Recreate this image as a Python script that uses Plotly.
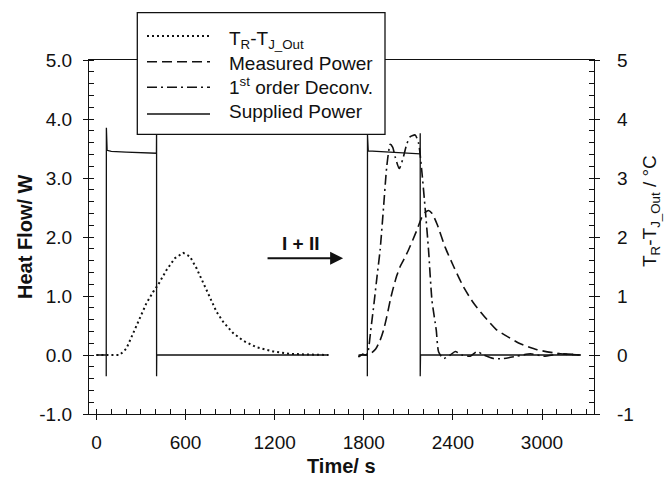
import plotly.graph_objects as go

# ---------------- data ----------------
# T_R - T_J_Out (dotted, right axis), first experiment
dot_t = [0, 100, 157, 202, 247, 292, 337, 382, 415, 472, 528, 584, 629, 674, 719, 764,
         809, 854, 921, 989, 1079, 1191, 1303, 1400, 1562]
dot_v = [0, 0, 0.0, 0.11, 0.37, 0.65, 0.88, 1.07, 1.19, 1.44, 1.64, 1.73, 1.67, 1.47, 1.22, 0.96,
         0.73, 0.56, 0.37, 0.24, 0.13, 0.06, 0.02, 0.01, 0]

# Measured power (dashed), second experiment
mp_t = [1764, 1790, 1820, 1850, 1880, 1910, 1933, 1955, 1980, 2000, 2023, 2045, 2070, 2101,
        2130, 2158, 2190, 2215, 2236, 2260, 2293, 2349, 2405, 2472, 2539, 2630, 2697, 2742,
        2854, 2967, 3124, 3260]
mp_v = [-0.03, 0.01, 0.0, 0.03, 0.1, 0.25, 0.42, 0.65, 0.95, 1.15, 1.35, 1.5, 1.62, 1.78,
        1.95, 2.12, 2.33, 2.42, 2.45, 2.40, 2.22, 1.82, 1.50, 1.15, 0.88, 0.60, 0.42, 0.35,
        0.19, 0.09, 0.02, 0]

# 1st order deconvolution (dash-dot), second experiment
dc_t = [1764, 1790, 1815, 1828, 1847, 1870, 1890, 1910, 1933, 1955, 1978, 1995, 2011, 2039,
        2067, 2090, 2113, 2146, 2169, 2191, 2214, 2236, 2259, 2288, 2304, 2337, 2382, 2416,
        2461, 2517, 2562, 2607, 2674, 2742, 2832, 2922, 3012, 3124, 3260]
dc_v = [-0.03, 0.01, 0.0, 0.05, 0.42, 0.9, 1.35, 1.78, 2.5, 3.2, 3.57, 3.52, 3.36, 3.16,
        3.36, 3.58, 3.70, 3.73, 3.59, 3.11, 2.46, 1.78, 0.93, 0.42, 0.05, -0.06, 0.0, 0.06,
        0.0, -0.02, 0.06, 0.0, -0.06, -0.06, -0.02, 0.02, -0.02, 0.02, 0]

# Supplied power (solid), both experiments
sup_t = [0, 66, 66, 67, 72, 100, 200, 300, 404, 405, 405, 406, 1562, None,
         1765, 1824, 1824, 1825, 1830, 1900, 2000, 2100, 2179, 2180, 2180, 2182, 3260]
sup_v = [0, 0, -0.36, 3.85, 3.47, 3.45, 3.44, 3.43, 3.42, 3.85, -0.36, 0, 0, None,
         0, 0, -0.36, 3.73, 3.46, 3.45, 3.43, 3.42, 3.41, 3.76, -0.36, 0, 0]

x_ticks = [0, 600, 1200, 1800, 2400, 3000]
x_ticktext = ["0", "600", "1200", "1800", "2400", "3000"]
y_ticks = [-1, 0, 1, 2, 3, 4, 5]
y_ticktext = ["-1.0", "0.0", "1.0", "2.0", "3.0", "4.0", "5.0"]
y2_ticktext = ["-1", "0", "1", "2", "3", "4", "5"]

legend_labels = ["T<sub>R</sub>-T<sub>J_Out</sub>", "Measured Power",
                 "1<sup>st</sup> order Deconv.", "Supplied Power"]

# ---------------- styling ----------------
FONT = "Liberation Sans, Arial, sans-serif"
INK = "#111111"
DOT = "2px,3px"
DASH = "10px,5px"
DASHDOT = "10px,4px,2px,4px"

fig = go.Figure()
fig.add_trace(go.Scatter(x=dot_t, y=dot_v, yaxis="y2", mode="lines", showlegend=False,
                         line=dict(color=INK, width=2, dash=DOT)))
fig.add_trace(go.Scatter(x=mp_t, y=mp_v, mode="lines", showlegend=False,
                         line=dict(color=INK, width=1.6, dash=DASH, shape="spline", smoothing=0.6)))
fig.add_trace(go.Scatter(x=dc_t, y=dc_v, mode="lines", showlegend=False,
                         line=dict(color=INK, width=1.6, dash=DASHDOT, shape="spline", smoothing=0.6)))
fig.add_trace(go.Scatter(x=sup_t, y=sup_v, mode="lines", showlegend=False, connectgaps=False,
                         line=dict(color=INK, width=1.3)))

axis_common = dict(showgrid=False, zeroline=False, showline=True, linecolor=INK, linewidth=1.3,
                   ticks="outside", ticklen=5, tickwidth=1, tickcolor=INK,
                   tickfont=dict(family=FONT, size=19, color=INK))

fig.update_layout(
    width=665, height=478,
    margin=dict(l=89, r=71, t=60, b=64),
    paper_bgcolor="white", plot_bgcolor="white",
    font=dict(family=FONT, color=INK),
    xaxis=dict(range=[-50, 3350], tickvals=x_ticks, ticktext=x_ticktext, mirror=True,
               ticklabelstandoff=6,
               minor=dict(dtick=100, tick0=0, ticks="inside", ticklen=5, tickcolor=INK),
               **axis_common),
    yaxis=dict(range=[-1, 5], tickvals=y_ticks, ticktext=y_ticktext,
               ticklabelstandoff=7,
               minor=dict(dtick=0.2, tick0=0, ticks="inside", ticklen=5, tickcolor=INK),
               **axis_common),
    yaxis2=dict(range=[-1, 5], tickvals=y_ticks, ticktext=y2_ticktext, overlaying="y",
                side="right", ticklabelstandoff=13,
                minor=dict(dtick=0.2, tick0=0, ticks="inside", ticklen=5, tickcolor=INK),
                **axis_common),
)

# ---------------- manual legend ----------------
PX0, PW, PY1, PH = 89, 505, 414, 354
def px(x):
    return (x - PX0) / PW
def py(y):
    return (PY1 - y) / PH

fig.add_shape(type="rect", xref="paper", yref="paper", layer="above",
              x0=px(137.3), x1=px(385), y0=py(134.3), y1=py(12.7),
              line=dict(color=INK, width=1.3), fillcolor="white")
line_rows = [36, 61.7, 87.3, 114]
line_styles = [(DOT, 2), (DASH, 1.6), (DASHDOT, 1.6), ("solid", 1.3)]
for yy, (ds, w) in zip(line_rows, line_styles):
    fig.add_shape(type="line", xref="paper", yref="paper", layer="above",
                  x0=px(147), x1=px(210), y0=py(yy), y1=py(yy),
                  line=dict(color=INK, width=w, dash=ds))
text_rows = [40, 63.3, 86.5, 111.7]
for yy, lab in zip(text_rows, legend_labels):
    fig.add_annotation(xref="paper", yref="paper", x=px(226.7), y=py(yy), text=lab,
                       showarrow=False, xanchor="left", yanchor="middle",
                       font=dict(family=FONT, size=19, color=INK))

# ---------------- axis titles ----------------
fig.add_annotation(xref="paper", yref="paper", x=px(25), y=0.5, text="<b>Heat Flow/ W</b>",
                   textangle=-90, showarrow=False, xanchor="center", yanchor="middle",
                   font=dict(family=FONT, size=20, color=INK))
fig.add_annotation(xref="paper", yref="paper", x=px(651), y=py(211),
                   text="T<sub>R</sub>-T<sub>J_Out</sub> / °C",
                   textangle=-90, showarrow=False, xanchor="center", yanchor="middle",
                   font=dict(family=FONT, size=19, color=INK))
fig.add_annotation(xref="paper", yref="paper", x=px(341), y=py(466), text="<b>Time/ s</b>",
                   showarrow=False, xanchor="center", yanchor="middle",
                   font=dict(family=FONT, size=20, color=INK))

# ---------------- arrow "I + II" ----------------
fig.add_annotation(x=1661, y=1.64, ax=1142, ay=1.64, xref="x", yref="y", axref="x", ayref="y",
                   text="", showarrow=True, arrowhead=2, arrowsize=1.3, arrowwidth=2,
                   arrowcolor=INK, standoff=0)
fig.add_annotation(x=1380, y=1.89, xref="x", yref="y", text="<b>I + II</b>", showarrow=False,
                   font=dict(family=FONT, size=19, color=INK))

fig.write_html("out.html")
